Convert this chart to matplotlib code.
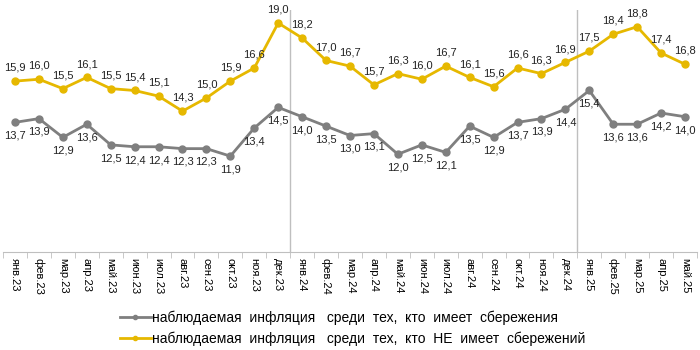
import matplotlib.pyplot as plt
import numpy as np

plt.rcParams['font.family'] = ['Liberation Sans', 'DejaVu Sans']

months = ['янв.23', 'фев.23', 'мар.23', 'апр.23', 'май.23', 'июн.23', 'июл.23', 'авг.23',
          'сен.23', 'окт.23', 'ноя.23', 'дек.23', 'янв.24', 'фев.24', 'мар.24', 'апр.24',
          'май.24', 'июн.24', 'июл.24', 'авг.24', 'сен.24', 'окт.24', 'ноя.24', 'дек.24',
          'янв.25', 'фев.25', 'мар.25', 'апр.25', 'май.25']

with_savings = [13.7, 13.9, 12.9, 13.6, 12.5, 12.4, 12.4, 12.3, 12.3, 11.9, 13.4, 14.5,
                14.0, 13.5, 13.0, 13.1, 12.0, 12.5, 12.1, 13.5, 12.9, 13.7, 13.9, 14.4,
                15.4, 13.6, 13.6, 14.2, 14.0]
no_savings = [15.9, 16.0, 15.5, 16.1, 15.5, 15.4, 15.1, 14.3, 15.0, 15.9, 16.6, 19.0,
              18.2, 17.0, 16.7, 15.7, 16.3, 16.0, 16.7, 16.1, 15.6, 16.6, 16.3, 16.9,
              17.5, 18.4, 18.8, 17.4, 16.8]

label_gray = 'наблюдаемая  инфляция   среди  тех,  кто  имеет  сбережения'
label_yellow = 'наблюдаемая  инфляция   среди  тех,  кто  НЕ  имеет  сбережений'

gray = '#7f7f7f'
yellow = '#e6b800'

fig = plt.figure(figsize=(7, 3.5), dpi=100)
ax = fig.add_axes([3 / 700, 1 - 252 / 350, 694 / 700, 242 / 350])

x = np.arange(len(months))
ax.plot(x, with_savings, color=gray, lw=2, marker='o', ms=5, label=label_gray)
ax.plot(x, no_savings, color=yellow, lw=2, marker='o', ms=5, label=label_yellow)

for xi, v in zip(x, with_savings):
    ax.annotate(f'{v:.1f}'.replace('.', ','), (xi, v), xytext=(0, -6),
                textcoords='offset points', ha='center', va='top', fontsize=8, color='#222222')
for xi, v in zip(x, no_savings):
    ax.annotate(f'{v:.1f}'.replace('.', ','), (xi, v), xytext=(0, 6),
                textcoords='offset points', ha='center', va='bottom', fontsize=8, color='#222222')

# разделители годов
for b in [11.5, 23.5]:
    ax.axvline(b, color='#bfbfbf', lw=1, zorder=0)

ax.set_xlim(-0.5, len(months) - 0.5)
ax.set_ylim(6.787, 19.693)
ax.set_yticks([])
for s in ['top', 'left', 'right']:
    ax.spines[s].set_visible(False)
ax.spines['bottom'].set_color('#bfbfbf')

ax.set_xticks(x)
ax.set_xticklabels(months, rotation=-90, fontsize=8, va='top', ha='center')
ax.tick_params(axis='x', which='major', length=0, pad=4)
ax.set_xticks(np.arange(-0.5, len(months)), minor=True)
ax.tick_params(axis='x', which='minor', length=4, color='#bfbfbf')

leg = fig.legend(loc='center left', bbox_to_anchor=(113 / 700, 1 - 328 / 350), ncol=1,
                 frameon=False, borderpad=0, fontsize=10, handlelength=2.2,
                 handletextpad=0.1, labelspacing=0.45, markerscale=0.6)

fig.savefig('out.png', dpi=100)
